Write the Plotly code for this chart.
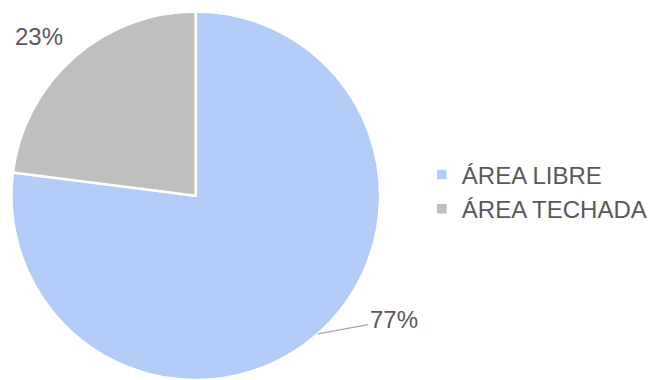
import math
import plotly.graph_objects as go

labels = ["ÁREA LIBRE", "ÁREA TECHADA"]
values = [77, 23]
colors = ["#b3cdf8", "#bfbfbf"]

W, H = 657, 380
DOM_X = [0.003, 0.593]
DOM_Y = [0.0, 0.97]
TEXT_COLOR = "#595959"
FONT = "Liberation Sans, Arial"

# pixel offsets of each percentage label from its slice's rim midpoint
label_offsets = [(76, -14), (-35, -21)]
show_leader = [True, False]

fig = go.Figure(
    go.Pie(
        labels=labels,
        values=values,
        sort=False,
        direction="clockwise",
        rotation=0,
        marker=dict(colors=colors, line=dict(color="white", width=2.5)),
        textinfo="none",
        domain=dict(x=DOM_X, y=DOM_Y),
        hoverinfo="label+percent",
    )
)

# geometry of the pie inside its domain (paper pixels, y downwards)
dw = (DOM_X[1] - DOM_X[0]) * W
dh = (DOM_Y[1] - DOM_Y[0]) * H
r = min(dw, dh) / 2
cx = (DOM_X[0] + DOM_X[1]) / 2 * W
cy = H - (DOM_Y[0] + DOM_Y[1]) / 2 * H

total = sum(values)
cum = 0
for v, (ax, ay), lead in zip(values, label_offsets, show_leader):
    mid = (cum + v / 2) / total * 2 * math.pi
    cum += v
    px = cx + r * math.sin(mid)
    py = cy - r * math.cos(mid)
    fig.add_annotation(
        x=px / W,
        y=1 - py / H,
        xref="paper",
        yref="paper",
        text=f"{round(v / total * 100)}%",
        showarrow=True,
        arrowhead=0,
        arrowwidth=1.3,
        arrowcolor="#a6a6a6" if lead else "rgba(0,0,0,0)",
        standoff=0,
        ax=ax,
        ay=ay,
        font=dict(size=24, color=TEXT_COLOR, family=FONT),
    )

fig.update_layout(
    width=W,
    height=H,
    margin=dict(l=0, r=0, t=0, b=0),
    paper_bgcolor="white",
    plot_bgcolor="white",
    font=dict(family=FONT, color=TEXT_COLOR),
    legend=dict(
        x=0.642,
        y=0.495,
        xanchor="left",
        yanchor="middle",
        font=dict(size=24, color=TEXT_COLOR),
    ),
)

fig.write_html("out.html")
